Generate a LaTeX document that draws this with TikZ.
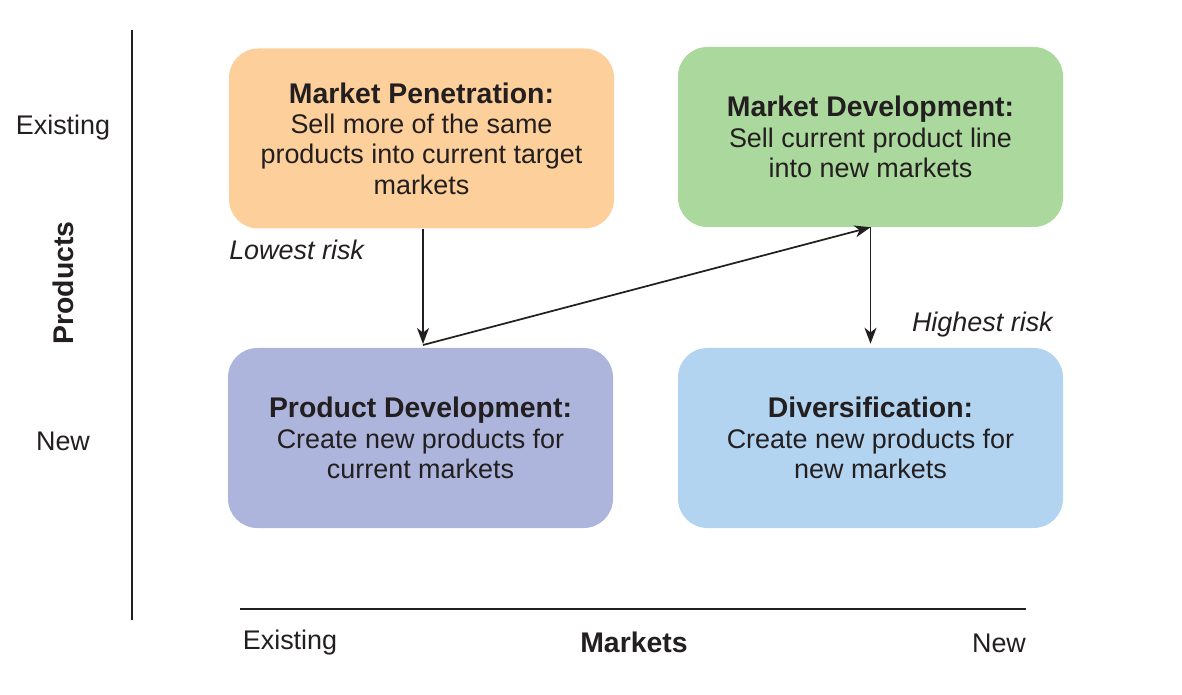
\documentclass[tikz,border=0pt]{standalone}
\usepackage{fontspec}
\setmainfont{Liberation Sans}
\usetikzlibrary{arrows.meta}
\definecolor{cOrange}{HTML}{FDCF9A}
\definecolor{cGreen}{HTML}{ABD89C}
\definecolor{cPurple}{HTML}{ADB5DD}
\definecolor{cBlue}{HTML}{B3D4F0}
\definecolor{cText}{HTML}{231F20}
\newcommand{\bfx}[1]{{\fontsize{21.3}{22.8}\selectfont\bfseries #1}}
\begin{document}
\begin{tikzpicture}[x=0.75pt,y=-0.75pt,
  every node/.style={text=cText, font=\fontsize{20.2}{22.8}\selectfont},
  quad/.style={rounded corners=22pt, minimum width=288.75pt, minimum height=135pt, align=center, inner sep=0pt},
  conn/.style={draw=cText, line width=1.3pt, -{Stealth[length=12pt,width=9pt,inset=3.5pt]}},
  axis/.style={draw=cText, line width=1pt}]
\useasboundingbox (0,0) rectangle (1182,695);
\node[quad, fill=cOrange] (mp) at (421.5,138.5) {\bfx{Market Penetration:}\\Sell more of the same\\products into current target\\markets};
\node[quad, fill=cGreen] (md) at (870.5,137) {\bfx{Market Development:}\\Sell current product line\\into new markets};
\node[quad, fill=cPurple] (pd) at (420.5,438) {\bfx{Product Development:}\\Create new products for\\current markets};
\node[quad, fill=cBlue] (dv) at (870.5,438) {\bfx{Diversification:}\\Create new products for\\new markets};
\draw[conn, shorten >=3pt] (mp.south -| 423,0) -- (423,348) coordinate (pdtop);
\draw[conn] (pdtop) ++(0,-3) coordinate (pdj) (pdj) -- (md.south);
\draw[conn, shorten >=3pt] (md.south) -- (dv.north);
\coordinate (vtop) at (132,30);
\coordinate (vbot) at (132,620);
\draw[axis] (vtop) -- (vbot);
\coordinate (hl) at (240,609);
\coordinate (hr) at (1026,609);
\draw[axis] (hl) -- (hr);
\node (pe) at (63,128) {Existing};
\node (pn) at (63,441) {New};
\node[rotate=90] (pl) at (63,283) {\bfx{Products}};
\node (me) at (290,643) {Existing};
\node (ml) at (634,642) {\bfx{Markets}};
\node (mn) at (999,643) {New};
\node[anchor=west, inner sep=0pt, font=\fontsize{20.2}{22.8}\selectfont\itshape] (lr) at (229,250) {Lowest risk};
\node[anchor=east, inner sep=0pt, font=\fontsize{20.2}{22.8}\selectfont\itshape] (hr2) at (1053,325) {Highest risk};
\end{tikzpicture}
\end{document}
